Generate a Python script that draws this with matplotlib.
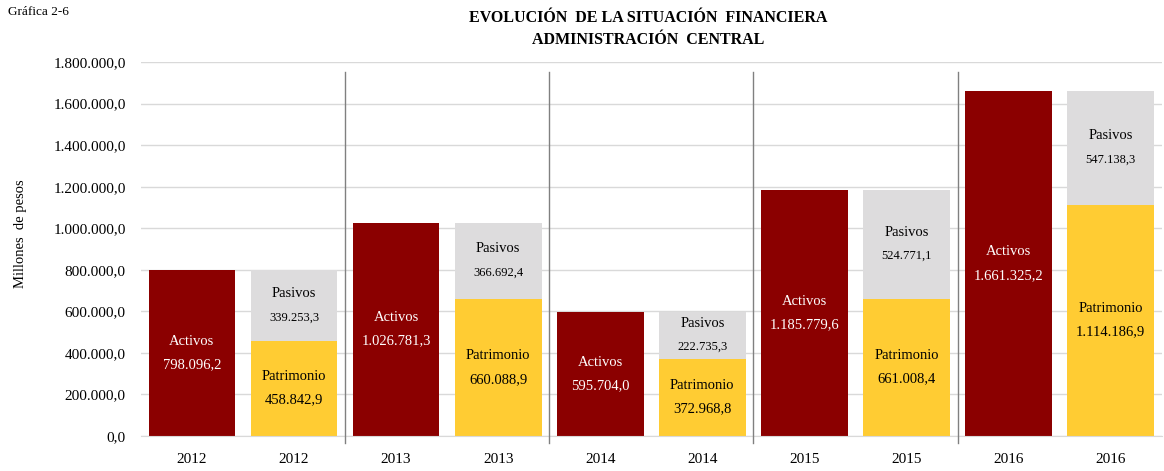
import matplotlib.pyplot as plt
import matplotlib.ticker as mticker
import numpy as np

plt.rcParams['font.family'] = ['Liberation Serif', 'DejaVu Serif']

# Datos (millones de pesos)
anios = ['2012', '2013', '2014', '2015', '2016']
activos = [798096.2, 1026781.3, 595704.0, 1185779.6, 1661325.2]
patrimonio = [458842.9, 660088.9, 372968.8, 661008.4, 1114186.9]
pasivos = [339253.3, 366692.4, 222735.3, 524771.1, 547138.3]


def fmt(v):
    s = f"{v:,.1f}"
    return s.replace(",", "X").replace(".", ",").replace("X", ".")


c_act = '#8B0000'
c_pat = '#FFCC33'
c_pas = '#DDDCDD'

fig = plt.figure(figsize=(11.64, 4.71), dpi=100)
ax = fig.add_axes([0.121, 0.0743, 0.877, 0.794])

n = len(anios)
x_act = np.arange(n) * 2
x_bal = x_act + 1
w = 0.85

ax.bar(x_act, activos, w, color=c_act, zorder=2)
ax.bar(x_bal, patrimonio, w, color=c_pat, zorder=2)
ax.bar(x_bal, pasivos, w, bottom=patrimonio, color=c_pas, zorder=2)


def etiqueta(x, y, titulo, valor, color, fs_val):
    ax.annotate(titulo, (x, y), xytext=(0, 8.5), textcoords='offset points',
                ha='center', va='center', color=color, fontsize=10.5)
    ax.annotate(valor, (x, y), xytext=(0, -8.5), textcoords='offset points',
                ha='center', va='center', color=color, fontsize=fs_val)


for i in range(n):
    etiqueta(x_act[i], activos[i] / 2, 'Activos', fmt(activos[i]), 'white', 10.5)
    etiqueta(x_bal[i], patrimonio[i] / 2, 'Patrimonio', fmt(patrimonio[i]),
             'black', 10.5)
    etiqueta(x_bal[i], patrimonio[i] + pasivos[i] / 2, 'Pasivos',
             fmt(pasivos[i]), 'black', 9)

# separadores entre años
for i in range(n - 1):
    ax.plot([x_bal[i] + 0.5] * 2, [-0.02, 0.973], color='#808080', lw=1,
            transform=ax.get_xaxis_transform(), clip_on=False, zorder=3)

ax.set_xlim(-0.5, 2 * n - 0.5)
ax.set_ylim(0, 1800000)
ax.yaxis.set_major_locator(mticker.MultipleLocator(200000))
ax.yaxis.set_major_formatter(mticker.FuncFormatter(lambda v, p: fmt(v)))
xt = np.sort(np.concatenate([x_act, x_bal]))
ax.set_xticks(xt)
ax.set_xticklabels([a for a in anios for _ in range(2)])
ax.tick_params(axis='both', length=0, labelsize=11)
ax.tick_params(axis='x', pad=12)
ax.tick_params(axis='y', pad=11)

ax.grid(axis='y', color='#D9D9D9', lw=1, zorder=0)
ax.set_axisbelow(True)
for s in ['top', 'right', 'left']:
    ax.spines[s].set_visible(False)
ax.spines['bottom'].set_color('#D9D9D9')

ax.set_ylabel('Millones  de pesos', fontsize=10.5)
ax.yaxis.set_label_coords(-0.112, 0.54)

fig.text(0.557, 0.978, 'EVOLUCIÓN  DE LA SITUACIÓN  FINANCIERA\nADMINISTRACIÓN  CENTRAL',
         ha='center', va='top', fontsize=11.5, fontweight='bold', linespacing=1.45)
fig.text(0.007, 0.988, 'Gráfica 2-6', ha='left', va='top', fontsize=9.5)

fig.savefig('out.png', dpi=100)
